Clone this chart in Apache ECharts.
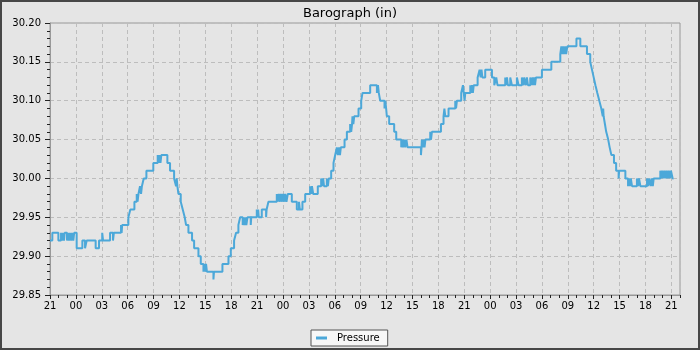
<!DOCTYPE html>
<html>
<head>
<meta charset="utf-8">
<script src="https://cdn.jsdelivr.net/npm/echarts@6/dist/echarts.min.js"></script>
<style>
html,body{margin:0;padding:0;background:#e5e5e5;}
#c{width:700px;height:350px;}
</style>
</head>
<body>
<div id="c"></div>
<script>
// Hours since the start of the plot (start = 21:00), change points of a step series
var hours = [
 0,0.27,0.97,1.28,1.42,1.52,1.62,1.7,1.97,2.05,2.2,2.3,2.45,2.55,2.7,2.8,
 3.09,3.75,4.06,4.25,5.29,5.68,6.05,6.15,6.96,7.3,7.4,8.23,8.3,8.36,
 9.08,9.31,9.78,10.05,10.15,10.25,10.43,10.55,10.65,10.86,11.17,11.97,
 12.48,12.58,12.68,12.8,12.9,13.6,13.91,14.38,14.61,14.68,14.76,14.88,
 15.15,15.38,15.61,15.77,16.04,16.46,16.7,17.2,17.47,17.78,17.88,17.98,18.08,18.18,
 18.94,19.0,19.98,20.68,20.95,21.33,21.56,21.83,22.03,22.33,22.45,22.55,22.65,22.75,
 22.88,23.26,23.32,23.96,24.05,24.12,24.19,24.54,25.04,25.1,25.31,26.28,
 26.4,26.5,26.65,26.75,26.9,27.0,27.15,27.25,27.4,27.55,28.02,28.6,28.85,28.95,
 29.25,29.57,30.14,30.25,30.35,30.5,31.03,31.42,31.55,31.65,31.75,32.08,32.2,32.3,
 32.58,32.85,33.04,33.24,33.35,33.5,33.6,33.7,34.13,34.4,34.78,34.9,35.0,35.05,35.15,35.25,
 35.75,36.06,36.21,37.1,37.88,38.0,38.1,38.26,38.76,38.85,38.95,39.03,39.3,39.88,40.12,
 40.7,40.8,40.9,41.05,41.15,41.3,41.43,42.98,43.05,43.09,43.2,43.3,43.4,43.5,
 44.06,44.15,44.25,45.3,45.6,45.7,45.8,46.18,46.96,47.05,47.15,47.65,47.85,48.04,48.12,
 48.7,48.8,48.9,49.0,49.1,49.55,49.78,49.9,50.0,50.1,50.43,51.21,51.48,51.71,51.85,
 52.75,52.85,52.95,53.05,53.2,53.33,53.52,54.1,54.3,54.68,54.88,54.95,55.15,55.26,55.38,
 55.65,55.77,55.92,56.0,56.1,56.2,56.31,57.0,58.09,59.13,59.25,59.35,59.45,59.55,59.7,59.8,59.95,
 61.0,61.45,62.22,62.6,62.8,63.0,63.2,63.42,63.65,63.88,64.05,64.1,64.15,64.3,64.45,
 64.68,64.85,65.05,65.35,65.6,65.89,65.95,66.67,66.98,67.1,67.2,67.3,67.44,
 68.01,68.15,68.25,68.41,69.18,69.3,69.45,69.6,69.75,69.85,69.95,
 70.72,70.85,70.95,71.1,71.2,71.35,71.45,71.6,71.7,71.85,71.95,72.15,72.25
];
var pressure = [
 29.92,29.93,29.92,29.93,29.92,29.93,29.92,29.93,29.92,29.93,29.92,29.93,29.92,29.93,29.92,29.93,
 29.91,29.92,29.91,29.92,29.91,29.92,29.93,29.92,29.93,29.92,29.93,29.94,29.93,29.94,
 29.95,29.96,29.97,29.98,29.97,29.98,29.99,29.98,29.99,30.00,30.01,30.02,
 30.03,30.02,30.03,30.02,30.03,30.02,30.01,30.00,29.99,30.00,29.99,29.98,
 29.97,29.96,29.95,29.94,29.93,29.92,29.91,29.90,29.89,29.88,29.89,29.88,29.89,29.88,
 29.87,29.88,29.89,29.90,29.91,29.92,29.93,29.94,29.95,29.94,29.95,29.94,29.95,29.94,
 29.95,29.94,29.95,29.96,29.95,29.96,29.95,29.96,29.95,29.96,29.97,29.98,
 29.97,29.98,29.97,29.98,29.97,29.98,29.97,29.98,29.97,29.98,29.97,29.96,29.97,29.96,
 29.97,29.98,29.99,29.98,29.99,29.98,29.99,30.00,29.99,30.00,29.99,30.00,29.99,30.00,
 30.01,30.02,30.03,30.04,30.03,30.04,30.03,30.04,30.05,30.06,30.07,30.06,30.07,30.08,30.07,30.08,
 30.09,30.10,30.11,30.12,30.11,30.12,30.11,30.10,30.09,30.10,30.09,30.08,30.07,30.06,30.05,
 30.04,30.05,30.04,30.05,30.04,30.05,30.04,30.03,30.04,30.05,30.04,30.05,30.04,30.05,
 30.06,30.05,30.06,30.07,30.08,30.09,30.08,30.09,30.10,30.09,30.10,30.11,30.12,30.10,30.11,
 30.12,30.11,30.12,30.11,30.12,30.13,30.14,30.13,30.14,30.13,30.14,30.13,30.12,30.13,30.12,
 30.13,30.12,30.13,30.12,30.12,30.13,30.12,30.13,30.12,30.13,30.12,30.13,30.12,30.13,30.12,
 30.13,30.12,30.13,30.12,30.13,30.12,30.13,30.14,30.15,30.16,30.17,30.16,30.17,30.16,30.17,30.16,30.17,
 30.18,30.17,30.16,30.15,30.14,30.13,30.12,30.11,30.10,30.09,30.08,30.09,30.08,30.07,30.06,
 30.05,30.04,30.03,30.02,30.01,30.00,30.01,30.00,29.99,30.00,29.99,30.00,29.99,
 30.00,29.99,30.00,29.99,30.00,29.99,30.00,29.99,30.00,29.99,30.00,
 30.01,30.00,30.01,30.00,30.01,30.00,30.01,30.00,30.01,30.00,30.01,30.00,30.00
];
var xTickLabels = ['21','00','03','06','09','12','15','18','21','00','03','06','09','12','15','18','21','00','03','06','09','12','15','18','21'];
var seriesName = 'Pressure';
var chartTitle = 'Barograph (in)';

var data = hours.map(function (h, i) { return [h, pressure[i]]; });
var FONT = 'DejaVu Sans';
var chart = echarts.init(document.getElementById('c'), null, {renderer: 'canvas'});
chart.setOption({
  animation: false,
  backgroundColor: '#e5e5e5',
  title: {
    text: chartTitle, left: 'center', top: 2,
    textStyle: {fontFamily: FONT, fontSize: 13, fontWeight: 'normal', color: '#000'}
  },
  legend: {
    data: [seriesName], left: 311, top: 330,
    icon: 'rect', itemWidth: 11, itemHeight: 3,
    backgroundColor: '#f7f7f7', borderColor: '#555', borderWidth: 1, borderRadius: 0,
    padding: [3, 8, 3, 5],
    textStyle: {fontFamily: FONT, fontSize: 10, color: '#000', padding: [0, 0, 0, 5]}
  },
  grid: {left: 50, right: 20, top: 23, bottom: 55, show: true, borderColor: '#999', borderWidth: 1, backgroundColor: 'transparent'},
  xAxis: [
    {
      type: 'value', min: 0, max: 73, interval: 1, position: 'bottom',
      axisLine: {show: true, lineStyle: {color: '#999', width: 1}},
      axisTick: {show: true, length: 3, lineStyle: {color: '#222'}},
      axisLabel: {show: false},
      splitLine: {show: false}
    },
    {
      type: 'value', min: 0, max: 73, interval: 3, position: 'bottom',
      axisLine: {show: false},
      axisTick: {show: true, length: 4, lineStyle: {color: '#222'}},
      axisLabel: {
        margin: 6, fontFamily: FONT, fontSize: 10, color: '#000', showMaxLabel: false,
        formatter: function (v) { return (v % 3 === 0) ? (xTickLabels[v / 3] || '') : ''; }
      },
      splitLine: {show: true, lineStyle: {color: '#bdbdbd', type: [4, 3], width: 1}}
    }
  ],
  yAxis: {
    type: 'value', min: 29.85, max: 30.20, interval: 0.05,
    axisLine: {show: true, lineStyle: {color: '#999', width: 1}},
    axisTick: {show: true, length: 5, lineStyle: {color: '#222'}},
    minorTick: {show: true, splitNumber: 5, length: 3, lineStyle: {color: '#222'}},
    axisLabel: {margin: 9, fontFamily: FONT, fontSize: 10, color: '#000', formatter: function (v) { return v.toFixed(2); }},
    splitLine: {show: true, lineStyle: {color: '#bdbdbd', type: [4, 3], width: 1}}
  },
  series: [{
    name: seriesName, type: 'line', step: 'end', xAxisIndex: 0,
    showSymbol: false, symbol: 'none',
    lineStyle: {color: '#4ca8d9', width: 2},
    itemStyle: {color: '#4ca8d9'},
    data: data
  }],
  graphic: [{
    type: 'rect', silent: true, z: 100,
    shape: {x: 1, y: 1, width: 698, height: 348},
    style: {fill: 'none', stroke: '#474747', lineWidth: 2}
  }]
});
</script>
</body>
</html>
